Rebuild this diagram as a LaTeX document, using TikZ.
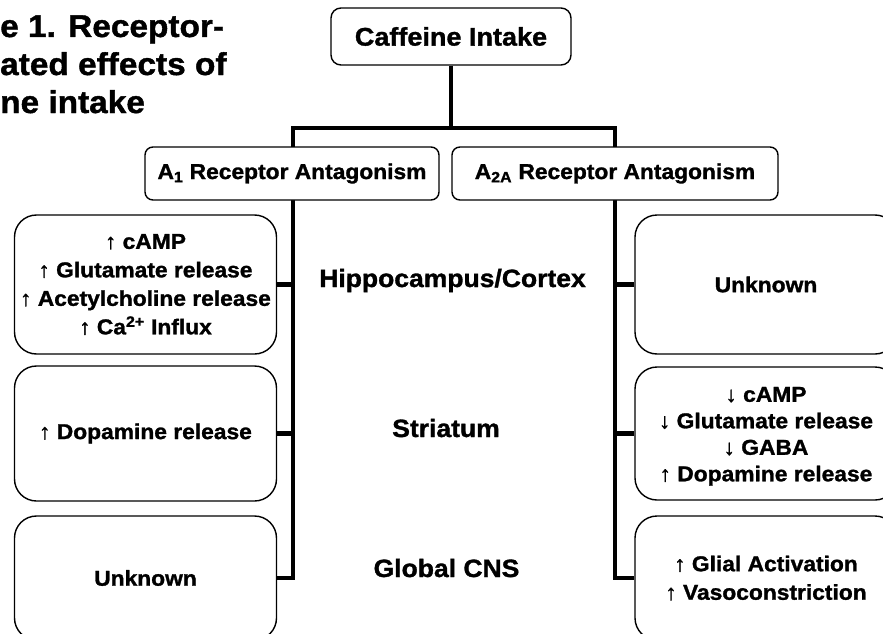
\documentclass[tikz,border=0pt]{standalone}
\usepackage{fontspec}
\setmainfont{Liberation Sans}[FakeStretch=1.06, BoldFeatures={FakeBold=1.3}]
\begin{document}
\begin{tikzpicture}[x=1pt,y=-1pt,
  box/.style={draw, line width=1.4pt, fill=white, inner sep=0pt, align=center},
  sidebox/.style={box, rounded corners=22pt, minimum width=262pt, font=\bfseries\fontsize{21.5}{28.5}\selectfont},
  conn/.style={line width=4.5pt},
  mid/.style={anchor=base, inner sep=0pt, font=\bfseries\fontsize{25}{28}\selectfont},
  ttl/.style={anchor=base west, inner sep=0pt, font=\bfseries\fontsize{31.5}{34}\selectfont}]
\useasboundingbox (0,0) rectangle (883,634);
\clip (0,0) rectangle (883,634);
\fill[white] (0,0) rectangle (883,634);

% title (cut by the picture's left edge)
\node[ttl] (t1) at (0,37) {e 1. Receptor-};
\node[ttl] (t2) at (0,75) {ated effects of};
\node[ttl] (t3) at (0,113) {ne intake};

% coordinates of the tree
\coordinate (jL) at (293,128);
\coordinate (jR) at (615,128);

% side boxes
\node[sidebox, minimum height=139pt] (l1) at (145.5,284.5) {↑ cAMP\\↑ Glutamate release\\↑ Acetylcholine release\\↑ Ca\textsuperscript{2+} Influx};
\node[sidebox, minimum height=135pt] (l2) at (145.5,433.5) {↑ Dopamine release};
\node[sidebox, minimum height=124pt] (l3) at (145.5,578) {Unknown};
\node[sidebox, minimum height=139pt] (r1) at (766,284.5) {Unknown};
\node[sidebox, minimum height=133pt, font=\bfseries\fontsize{21.5}{26.5}\selectfont] (r2) at (766,433.5) {\raisebox{0pt}[\height][\depth]{}\\[-6pt]↓ cAMP\\↓ Glutamate release\\↓ GABA\\↑ Dopamine release};
\node[sidebox, minimum height=124pt] (r3) at (766,578) {↑ Glial Activation\\↑ Vasoconstriction};

% top box
\node[box, rounded corners=10pt, minimum width=240pt, minimum height=57pt,
      font=\bfseries\fontsize{25.5}{28}\selectfont] (caff) at (451,36.5) {Caffeine Intake};

% connectors
\draw[conn] (caff.south) -- (caff.south |- jL);
\draw[conn] (l3.east) -| (jL) -- (jR) |- (r3.west);
\draw[conn] (l1.east) -- (l1.east -| jL);
\draw[conn] (l2.east) -- (l2.east -| jL);
\draw[conn] (r1.west) -- (r1.west -| jR);
\draw[conn] (r2.west) -- (r2.west -| jR);

% receptor boxes
\node[box, rounded corners=8pt, minimum width=294pt, minimum height=53pt,
      font=\bfseries\fontsize{21.5}{24}\selectfont] (a1) at (292,173.5) {A\textsubscript{1} Receptor Antagonism};
\node[box, rounded corners=8pt, minimum width=326pt, minimum height=53pt,
      font=\bfseries\fontsize{21.5}{24}\selectfont] (a2) at (615,173.5) {A\textsubscript{2A} Receptor Antagonism};

% region labels
\node[mid] (hc) at (452.5,287) {Hippocampus/Cortex};
\node[mid] (st) at (446,437) {Striatum};
\node[mid] (gc) at (446.5,577) {Global CNS};
\end{tikzpicture}
\end{document}
